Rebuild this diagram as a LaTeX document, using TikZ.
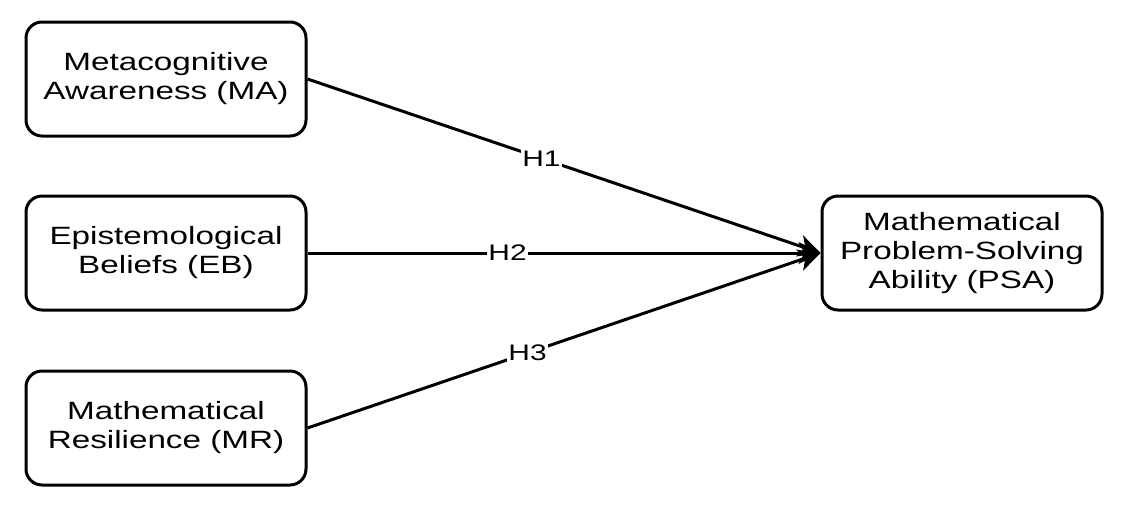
\documentclass[tikz,border=0pt]{standalone}
\usepackage{fontspec}
\setmainfont{Liberation Sans}[FakeStretch=1.33]
\usetikzlibrary{arrows.meta}
\begin{document}
\begin{tikzpicture}[x=1pt,y=-1pt,
  box/.style={draw=black,line width=3pt,rounded corners=16pt,fill=white,
    minimum width=280pt,minimum height=114pt,align=center,inner sep=0pt,
    font=\fontsize{25}{29}\selectfont},
  hyp/.style={line width=3pt,-{Stealth[length=22pt,width=22pt,inset=6pt]}},
  hlab/.style={fill=white,inner sep=1pt,font=\fontsize{22.5}{26}\selectfont}]
\useasboundingbox (0,0) rectangle (1128,507);
\node[box] (ma) at (166,79) {Metacognitive\\Awareness (MA)};
\node[box] (eb) at (166,253) {Epistemological\\Beliefs (EB)};
\node[box] (mr) at (166,428) {Mathematical\\Resilience (MR)};
\node[box] (psa) at (962,253) {Mathematical\\Problem-Solving\\Ability (PSA)};
\draw[hyp] (ma.east) -- node[hlab,pos=0.456] (h1) {H1} (psa.west);
\draw[hyp] (eb.east) -- node[hlab,pos=0.39] (h2) {H2} (psa.west);
\draw[hyp] (mr.east) -- node[hlab,pos=0.429] (h3) {H3} (psa.west);
\end{tikzpicture}
\end{document}
